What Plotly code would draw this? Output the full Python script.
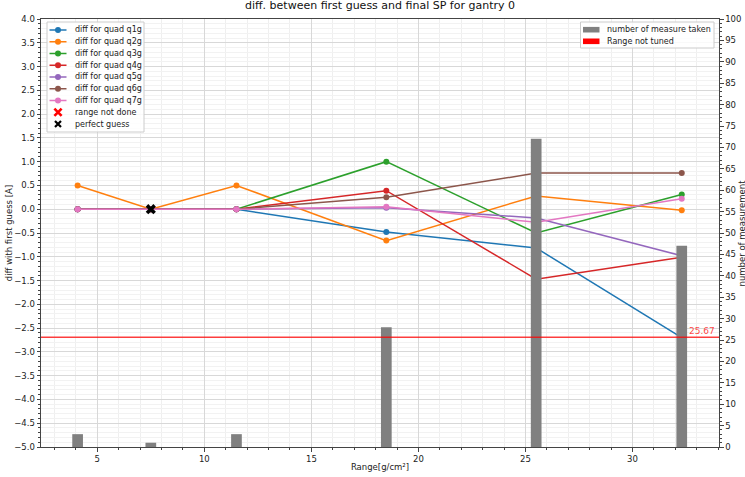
import plotly.graph_objects as go

# Range values (g/cm^2) at which the quads were tuned
ranges = [4.08, 7.5, 11.5, 18.5, 25.5, 32.3]

# Difference between first guess and final set point, per quad [A]
q1g = [0.0, 0.0, 0.0, -0.48, -0.815, -2.7]
q2g = [0.5, 0.0, 0.5, -0.66, 0.28, -0.02]
q3g = [0.0, 0.0, 0.0, 1.0, -0.5, 0.31]
q4g = [0.0, 0.0, 0.0, 0.39, -1.47, -1.01]
q5g = [0.0, 0.0, 0.0, 0.03, -0.185, -0.98]
q6g = [0.0, 0.0, 0.0, 0.25, 0.76, 0.76]
q7g = [0.0, 0.0, 0.0, 0.05, -0.275, 0.22]
quad_names = ["q1g", "q2g", "q3g", "q4g", "q5g", "q6g", "q7g"]
quad_diffs = [q1g, q2g, q3g, q4g, q5g, q6g, q7g]

# Ranges where the first guess was already correct
perfect_x = [7.5]
perfect_y = [0.0]

# Number of measurements taken per range
n_measure = [3, 1, 3, 28, 72, 47]

# Threshold drawn on the measurement axis
not_tuned_level = 25.67

colors = ["#1f77b4", "#ff7f0e", "#2ca02c", "#d62728", "#9467bd", "#8c564b", "#e377c2"]
FONT = "DejaVu Sans"

W, H = 745, 477
ML, MR, MT, MB = 41, 26, 19, 30
PW, PH = W - ML - MR, H - MT - MB


def px(x):
    """pixel column -> paper x"""
    return (x - ML) / PW


def py(y):
    """pixel row -> paper y"""
    return (H - MB - y) / PH


fig = go.Figure()

for name, vals, col in zip(quad_names, quad_diffs, colors):
    fig.add_trace(go.Scatter(
        x=ranges, y=vals, mode="lines+markers", name=f"diff for quad {name}",
        line=dict(color=col, width=1.5), marker=dict(color=col, size=6),
        yaxis="y",
    ))

fig.add_trace(go.Scatter(
    x=perfect_x, y=perfect_y, mode="markers", name="perfect guess",
    marker=dict(symbol="x", color="black", size=9, line=dict(width=0)),
    yaxis="y",
))

# measurement counts on the secondary axis (drawn above the lines)
fig.add_trace(go.Bar(
    x=ranges, y=n_measure, width=0.5, name="number of measure taken",
    marker=dict(color="#808080", line=dict(width=0)),
    yaxis="y2",
))

fig.add_shape(type="line", xref="paper", x0=0, x1=1, yref="y2",
              y0=not_tuned_level, y1=not_tuned_level,
              line=dict(color="rgba(255,0,0,0.75)", width=1.5), layer="above")
fig.add_annotation(xref="paper", x=0.997, xanchor="right", yref="y2",
                   y=not_tuned_level, yanchor="bottom", yshift=-1,
                   text=f"{not_tuned_level:.2f}", showarrow=False,
                   font=dict(family=FONT, size=9, color="rgba(255,0,0,0.75)"))

# ---- legends (boxes with handles and labels) ----
LEG_FONT = dict(family=FONT, size=8, color="#222")


def legend_box(x0, y0, x1, y1):
    fig.add_shape(type="rect", xref="paper", yref="paper",
                  x0=px(x0), x1=px(x1), y0=py(y1), y1=py(y0),
                  line=dict(color="#cccccc", width=1),
                  fillcolor="rgba(255,255,255,0.85)", layer="above")


def legend_text(x, y, text):
    fig.add_annotation(xref="paper", yref="paper", x=px(x), y=py(y),
                       xanchor="left", yanchor="middle", text=text,
                       showarrow=False, font=LEG_FONT)


def legend_cross(cx, cy, half, color, width):
    path = (f"M {px(cx - half)} {py(cy - half)} L {px(cx + half)} {py(cy + half)} "
            f"M {px(cx - half)} {py(cy + half)} L {px(cx + half)} {py(cy - half)}")
    fig.add_shape(type="path", xref="paper", yref="paper", path=path,
                  line=dict(color=color, width=width), layer="above")


# left legend: quad series + special markers
legend_box(47, 22, 144, 132)
row_y = [30 + 11.75 * i for i in range(9)]
for i, (name, col) in enumerate(zip(quad_names, colors)):
    yy = row_y[i]
    fig.add_shape(type="line", xref="paper", yref="paper",
                  x0=px(49.5), x1=px(66.5), y0=py(yy), y1=py(yy),
                  line=dict(color=col, width=1.5), layer="above")
    fig.add_shape(type="circle", xref="paper", yref="paper",
                  x0=px(55), x1=px(61), y0=py(yy + 3), y1=py(yy - 3),
                  line=dict(color=col, width=0), fillcolor=col, layer="above")
    legend_text(72.5, yy, f"diff for quad {name}")
legend_cross(58, row_y[7], 3.6, "red", 2.6)
legend_text(72.5, row_y[7], "range not done")
legend_cross(58, row_y[8], 3.0, "black", 2.2)
legend_text(72.5, row_y[8], "perfect guess")

# right legend: bar counts and threshold
legend_box(580.5, 22, 714, 48)
for yy, col, label in [(29.7, "#808080", "number of measure taken"),
                       (41.3, "red", "Range not tuned")]:
    fig.add_shape(type="rect", xref="paper", yref="paper",
                  x0=px(583), x1=px(599.5), y0=py(yy + 2.8), y1=py(yy - 2.8),
                  line=dict(width=0), fillcolor=col, layer="above")
    legend_text(605, yy, label)

axis_common = dict(
    showline=True, linecolor="#444", linewidth=1, ticks="outside",
    ticklen=3.5, tickcolor="#444", tickfont=dict(family=FONT, size=8.5, color="#222"),
    zeroline=False, automargin=False,
)

fig.update_layout(
    width=W, height=H,
    margin=dict(l=ML, r=MR, t=MT, b=MB),
    paper_bgcolor="white", plot_bgcolor="white",
    font=dict(family=FONT, size=9, color="#222"),
    showlegend=False,
    title=dict(text="diff. between first guess and final SP for gantry 0",
               x=0.5, xref="paper", xanchor="center",
               y=0.997, yref="container", yanchor="top",
               font=dict(family=FONT, size=11, color="#111")),
    barmode="overlay",
    xaxis=dict(
        range=[2.37, 34.04], tickmode="array", tickvals=[5, 10, 15, 20, 25, 30],
        mirror=True, showgrid=True, gridcolor="#d8d8d8", gridwidth=1,
        minor=dict(dtick=1, tick0=0, showgrid=True, gridcolor="#efefef",
                   ticks="outside", ticklen=2, tickcolor="#444"),
        title=dict(text="Range[g/cm²]", font=dict(family=FONT, size=8.5), standoff=1),
        **axis_common,
    ),
    yaxis=dict(
        range=[-5, 4], dtick=0.5, tick0=0, tickformat=".1f",
        showgrid=True, gridcolor="#d8d8d8", gridwidth=1,
        minor=dict(dtick=0.1, tick0=0, showgrid=True, gridcolor="#f2f2f2",
                   ticks="outside", ticklen=2, tickcolor="#444"),
        title=dict(text="diff with first guess [A]", font=dict(family=FONT, size=8.5), standoff=0),
        **axis_common,
    ),
    yaxis2=dict(
        range=[0, 100], dtick=5, tick0=0, overlaying="y", side="right",
        showgrid=False,
        minor=dict(dtick=1, tick0=0, ticks="outside", ticklen=2, tickcolor="#444"),
        **axis_common,
    ),
)

# right-hand axis label, sitting at the window edge
fig.add_annotation(xref="paper", yref="paper", x=px(741.5), y=0.5,
                   xanchor="center", yanchor="middle", textangle=-90,
                   text="number of measurement", showarrow=False,
                   font=dict(family=FONT, size=8.5, color="#222"))

fig.write_html("out.html")
